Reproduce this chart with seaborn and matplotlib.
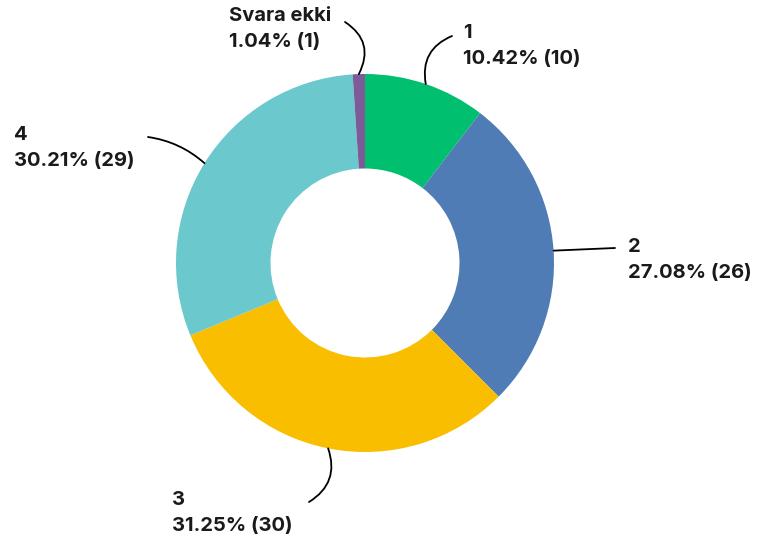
import numpy as np
import matplotlib
matplotlib.use("Agg")
from matplotlib import pyplot as plt
import seaborn as sns

# data
categories = ["1", "2", "3", "4", "Svara ekki"]
counts = [10, 26, 30, 29, 1]
percents = [10.42, 27.08, 31.25, 30.21, 1.04]
colors = ["#00BF6F", "#507CB6", "#F9BE00", "#6BC8CD", "#7D5A98"]

sns.set_theme(style="white")
plt.rcParams["font.family"] = ["Inter", "DejaVu Sans"]

W, H = 757, 542
cx, cy, R = 365, 263, 189  # centre / radius in pixels

fig = plt.figure(figsize=(W / 100, H / 100), dpi=100)
ax = fig.add_axes([0, 0, 1, 1])


def px(x, y):
    # pixel -> data coords (radius 1 == R px)
    return (x - cx) / R, (cy - y) / R


wedges, _ = ax.pie(counts, colors=colors, startangle=90, counterclock=False,
                   radius=1, wedgeprops=dict(width=0.5, linewidth=0))

# label layout: (line end px, text top-left px, curvature)
layout = {
    "1": ((452, 36), (463, 24), 0.4),
    "2": ((615, 248), (628, 238), 0.0),
    "3": ((309, 502), (172, 491), 0.4),
    "4": ((148, 137), (14, 126), -0.15),
    "Svara ekki": ((345, 22), (229, 7), -0.45),
}

for w, cat, pct, n in zip(wedges, categories, percents, counts):
    ang = np.deg2rad((w.theta1 + w.theta2) / 2)
    start = (np.cos(ang), np.sin(ang))
    end_px, txt_px, rad = layout[cat]
    ax.annotate("", xy=start, xytext=px(*end_px),
                arrowprops=dict(arrowstyle="-", color="black", lw=1.3,
                                shrinkA=0, shrinkB=0,
                                connectionstyle=f"arc3,rad={rad}"))
    tx, ty = px(*txt_px)
    ax.text(tx, ty, f"{cat}\n{pct:.2f}% ({n})", ha="left", va="top",
            fontsize=14.5, fontweight="bold", color="#1a1a1a",
            linespacing=1.6)

ax.set_xlim(-cx / R, (W - cx) / R)
ax.set_ylim(-(H - cy) / R, cy / R)
ax.set_aspect("equal")
ax.axis("off")

plt.savefig("out.png", dpi=100)
